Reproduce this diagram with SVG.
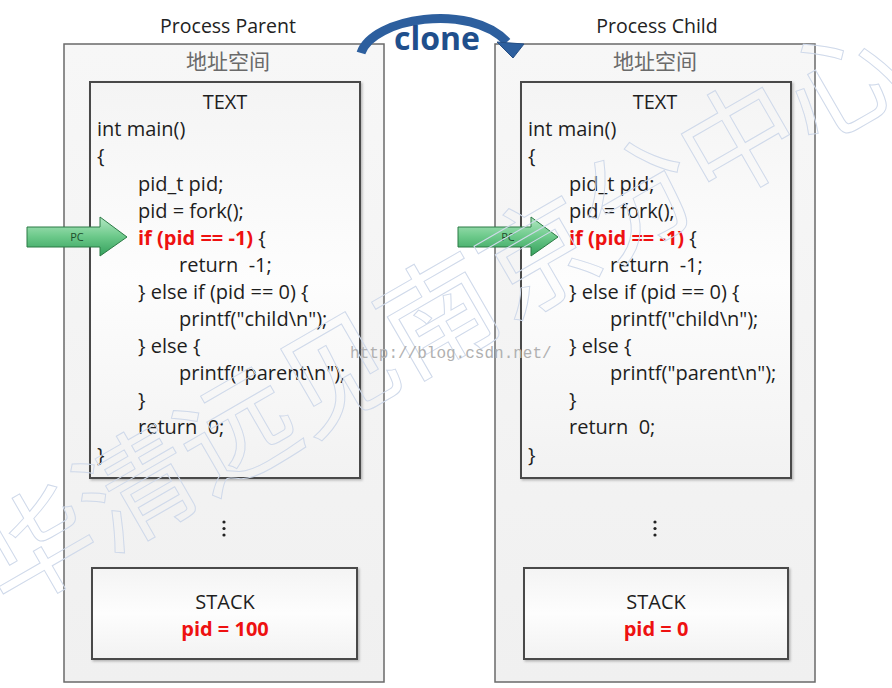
<svg xmlns="http://www.w3.org/2000/svg" width="892" height="688" viewBox="0 0 892 688">
<defs>
  <linearGradient id="outerG" x1="0" y1="0" x2="0" y2="1">
    <stop offset="0" stop-color="#f7f7f7"/>
    <stop offset="1" stop-color="#f0f0f0"/>
  </linearGradient>
  <linearGradient id="innerG" x1="0" y1="0" x2="0" y2="1">
    <stop offset="0" stop-color="#f4f4f4"/>
    <stop offset="0.5" stop-color="#fdfdfd"/>
    <stop offset="1" stop-color="#f2f2f2"/>
  </linearGradient>
  <linearGradient id="pcG" x1="0" y1="0" x2="0" y2="1">
    <stop offset="0" stop-color="#b4e8c4"/>
    <stop offset="0.5" stop-color="#6cc98a"/>
    <stop offset="1" stop-color="#34a05c"/>
  </linearGradient>
  <filter id="sh" x="-5%" y="-5%" width="110%" height="110%">
    <feDropShadow dx="1.5" dy="1.5" stdDeviation="1.2" flood-color="#000" flood-opacity="0.25"/>
  </filter>
  <symbol id="pc" overflow="visible">
    <polygon points="0,-10 73,-10 73,-20 100,0 73,19 73,10 0,10" fill="url(#pcG)" stroke="#2b7a45" stroke-width="1"/>
    <text x="50" y="4" font-family="'Open Sans', sans-serif" font-size="11" fill="#1d4d2c" text-anchor="middle">PC</text>
  </symbol>
</defs>
<style>
  .title { font-family: 'Open Sans', 'Liberation Sans', sans-serif; font-size: 19.5px; fill: #222; text-anchor: middle; }
  .cjk { font-family: 'Noto Sans CJK SC', sans-serif; font-size: 21px; fill: #6a6a6a; text-anchor: middle; }
  .outer { fill: url(#outerG); stroke: #6a6a6a; stroke-width: 1.5; }
  .inner { fill: url(#innerG); stroke: #4a4a4a; stroke-width: 2; filter: url(#sh); }
  .code { font-family: 'Open Sans', 'Liberation Sans', sans-serif; font-size: 20px; fill: #1e1e1e; white-space: pre; }
  .hl { fill: #ee1111; font-weight: bold; }
  .ctr { text-anchor: middle; }
  .wm { font-family: 'Noto Sans CJK SC', sans-serif; font-size: 116px; fill: none; stroke: #cfd9ea; stroke-width: 1; }
</style>

<rect width="892" height="688" fill="#ffffff"/>

<g id="parent">
  <text class="title" x="228" y="33">Process Parent</text>
  <rect class="outer" x="64" y="44" width="320" height="638"/>
  <text class="cjk" x="228" y="69">地址空间</text>
  <g id="parent-text">
    <rect class="inner" x="90" y="82" width="270" height="396"/>
    <g class="code">
      <text class="ctr" x="225" y="109">TEXT</text>
      <text x="97" y="136">int main()</text>
      <text x="97" y="163">{</text>
      <text x="138" y="191">pid_t pid;</text>
      <text x="138" y="218">pid = fork();</text>
      <text x="138" y="245"><tspan class="hl">if (pid == -1)</tspan> {</text>
      <text x="179" y="272" xml:space="preserve">return  -1;</text>
      <text x="138" y="299">} else if (pid == 0) {</text>
      <text x="179" y="326">printf("child\n");</text>
      <text x="138" y="353">} else {</text>
      <text x="179" y="380">printf("parent\n");</text>
      <text x="138" y="407">}</text>
      <text x="138" y="434" xml:space="preserve">return  0;</text>
      <text x="97" y="462">}</text>
    </g>
  </g>
  <g fill="#222">
    <circle cx="224" cy="522" r="1.6"/><circle cx="224" cy="528.5" r="1.6"/><circle cx="224" cy="535" r="1.6"/>
  </g>
  <g id="parent-stack">
    <rect class="inner" x="92" y="568" width="265" height="91"/>
    <text class="code ctr" x="225" y="609">STACK</text>
    <text class="code ctr hl" x="225" y="636">pid = 100</text>
  </g>
</g>

<g id="child">
  <text class="title" x="657" y="33">Process Child</text>
  <rect class="outer" x="495" y="44" width="320" height="638"/>
  <text class="cjk" x="655" y="69">地址空间</text>
  <g id="child-text">
    <rect class="inner" x="521" y="82" width="270" height="396"/>
    <g class="code">
      <text class="ctr" x="655" y="109">TEXT</text>
      <text x="528" y="136">int main()</text>
      <text x="528" y="163">{</text>
      <text x="569" y="191">pid_t pid;</text>
      <text x="569" y="218">pid = fork();</text>
      <text x="569" y="245"><tspan class="hl">if (pid == -1)</tspan> {</text>
      <text x="610" y="272" xml:space="preserve">return  -1;</text>
      <text x="569" y="299">} else if (pid == 0) {</text>
      <text x="610" y="326">printf("child\n");</text>
      <text x="569" y="353">} else {</text>
      <text x="610" y="380">printf("parent\n");</text>
      <text x="569" y="407">}</text>
      <text x="569" y="434" xml:space="preserve">return  0;</text>
      <text x="528" y="462">}</text>
    </g>
  </g>
  <g fill="#222">
    <circle cx="655" cy="522" r="1.6"/><circle cx="655" cy="528.5" r="1.6"/><circle cx="655" cy="535" r="1.6"/>
  </g>
  <g id="child-stack">
    <rect class="inner" x="524" y="568" width="264" height="91"/>
    <text class="code ctr" x="656" y="609">STACK</text>
    <text class="code ctr hl" x="656" y="636">pid = 0</text>
  </g>
</g>

<g id="connectors">
  <g id="pc-parent"><use href="#pc" x="27" y="237"/></g>
  <g id="pc-child"><use href="#pc" x="458" y="237"/></g>
  <g id="clone-arrow">
    <path d="M361,53 C372,18 470,2 507,42" fill="none" stroke="#2d5f9e" stroke-width="9"/>
    <polygon points="497,42 524,44 513,58" fill="#2d5f9e" stroke="#244e85" stroke-width="1"/>
    <text x="437" y="50" font-family="'Open Sans', 'Liberation Sans', sans-serif" font-size="32" font-weight="bold" fill="#1f4f8c" text-anchor="middle">clone</text>
  </g>
</g>

<g id="watermark">
  <text class="wm" transform="translate(35,545) rotate(-30)" x="-58" y="44">华清远见南京分中心</text>
  <text x="350" y="358" font-family="'Liberation Mono', monospace" font-size="16" fill="#b0b0b0">http://blog.csdn.net/</text>
</g>
</svg>
